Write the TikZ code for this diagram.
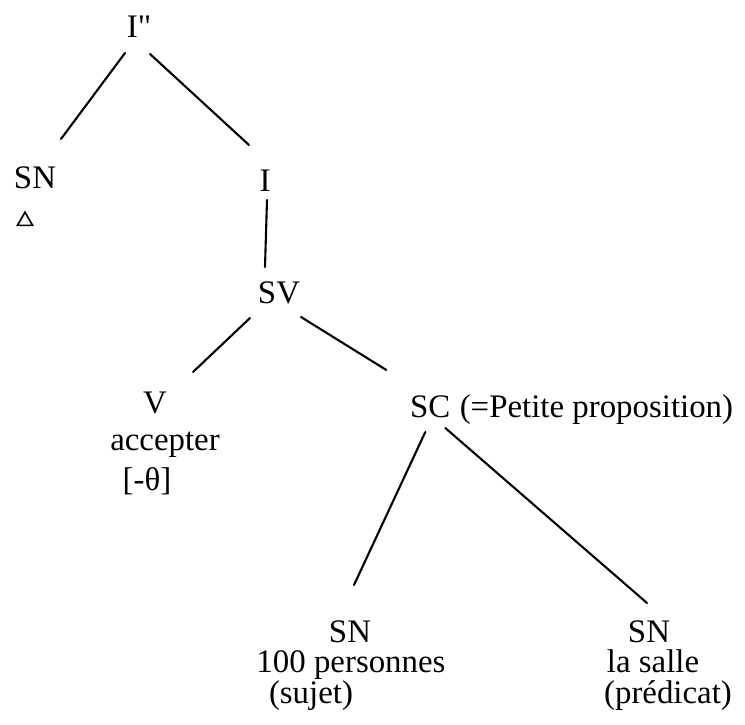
\documentclass[tikz,border=0pt]{standalone}
\usepackage{fontspec}
\setmainfont{Liberation Serif}
\usetikzlibrary{shapes.geometric}
\begin{document}
\begin{tikzpicture}[x=1bp,y=-1bp,
  lbl/.style={inner sep=0pt,anchor=base,font=\fontsize{33}{38}\selectfont},
  edge/.style={line width=2.1bp,line cap=round}]
\useasboundingbox (0,0) rectangle (745,725);
% nodes
\node[lbl] (Ipp) at (139,38) {I\textquotedbl};
\node[lbl] (SNa) at (35,188) {SN};
\node[regular polygon,regular polygon sides=3,draw,line width=1.7bp,minimum size=17.5bp,inner sep=0pt] (tri) at (25,221) {};
\node[lbl] (I) at (265,191) {I};
\node[lbl] (SV) at (279,303) {SV};
\node[lbl] (V) at (155,413) {V};
\node[lbl] (acc) at (165,450) {accepter};
\node[lbl] (theta) at (147,490) {[-θ]};
\node[lbl,anchor=base west] (SC) at (410,417) {SC};
\node[lbl,anchor=base west] (pp) at ([xshift=9]SC.base east) {(=Petite proposition)};
\node[lbl] (SNb) at (350,642) {SN};
\node[lbl] (pers) at (351,672) {100 personnes};
\node[lbl] (suj) at (311,703) {(sujet)};
\node[lbl] (SNc) at (649,642) {SN};
\node[lbl] (salle) at (653,672) {la salle};
\node[lbl] (pred) at (668,703) {(prédicat)};
% connectors
\draw[edge] ([shift={(-14,15)}]Ipp.base) -- ([shift={(26,-49)}]SNa.base);
\draw[edge] ([shift={(11,16)}]Ipp.base) -- ([shift={(-16,-46)}]I.base);
\draw[edge] ([shift={(2,9)}]I.base) -- ([shift={(-14,-36)}]SV.base);
\draw[edge] ([shift={(-29,15)}]SV.base) -- ([shift={(38,-41)}]V.base);
\draw[edge] ([shift={(22,14)}]SV.base) -- ([shift={(-44,-47)}]SC.base);
\draw[edge] ([shift={(-5,15)}]SC.base) -- ([shift={(4,-57)}]SNb.base);
\draw[edge] ([shift={(15,11)}]SC.base) -- ([shift={(-2,-39)}]SNc.base);
\end{tikzpicture}
\end{document}
